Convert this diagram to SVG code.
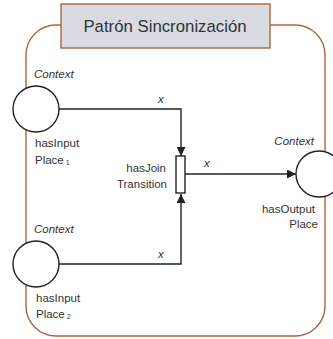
<svg xmlns="http://www.w3.org/2000/svg" width="333" height="339" viewBox="0 0 333 339">
<style>
.lbl{font-family:"Liberation Sans",Arial,sans-serif;font-size:11.5px;fill:#333}
.it{font-style:italic}
.edge{stroke:#222;stroke-width:1.4;fill:none}
.place{fill:#fff;stroke:#222;stroke-width:1.4}
</style>
<defs>
<marker id="arr" viewBox="0 0 10 10" refX="10" refY="5" markerWidth="9" markerHeight="9" markerUnits="userSpaceOnUse" orient="auto">
<path d="M0,0 L10,5 L0,10 z" fill="#222"/>
</marker>
</defs>
<rect x="26" y="25" width="299" height="311" rx="30" ry="30" fill="#fff" stroke="#b0643c" stroke-width="1.4"/>
<g id="title">
<rect x="61" y="4" width="209" height="44" fill="#d8dbe2" stroke="#b0643c" stroke-width="1.4"/>
<text x="165" y="32" text-anchor="middle" style="font-family:'Liberation Sans',Arial,sans-serif;font-size:16.8px;fill:#333">Patrón Sincronización</text>
</g>
<g id="connectors">
<path class="edge" d="M59,109 H181 V156" marker-end="url(#arr)"/>
<path class="edge" d="M59,264 H181 V194" marker-end="url(#arr)"/>
<path class="edge" d="M185,174 H296" marker-end="url(#arr)"/>
<text class="lbl it" x="158" y="103">x</text>
<text class="lbl it" x="158" y="258">x</text>
<text class="lbl it" x="204" y="167">x</text>
</g>
<g id="input1">
<circle class="place" cx="36" cy="109" r="23"/>
<text class="lbl it" x="34" y="78">Context</text>
<text class="lbl" x="35" y="147">hasInput</text>
<text class="lbl" x="35" y="164">Place<tspan font-size="7" dy="1"> 1</tspan></text>
</g>
<g id="input2">
<circle class="place" cx="36" cy="264" r="23"/>
<text class="lbl it" x="34" y="233">Context</text>
<text class="lbl" x="36" y="302">hasInput</text>
<text class="lbl" x="36" y="318">Place<tspan font-size="7" dy="1"> 2</tspan></text>
</g>
<g id="transition">
<rect x="176" y="156" width="9" height="37" fill="#fff" stroke="#222" stroke-width="1.4"/>
<text class="lbl" x="166" y="172" text-anchor="end">hasJoin</text>
<text class="lbl" x="167" y="188" text-anchor="end">Transition</text>
</g>
<g id="output">
<circle class="place" cx="319" cy="174" r="23"/>
<text class="lbl it" x="314" y="145" text-anchor="end">Context</text>
<text class="lbl" x="315" y="213" text-anchor="end">hasOutput</text>
<text class="lbl" x="318" y="228" text-anchor="end">Place</text>
</g>
</svg>
